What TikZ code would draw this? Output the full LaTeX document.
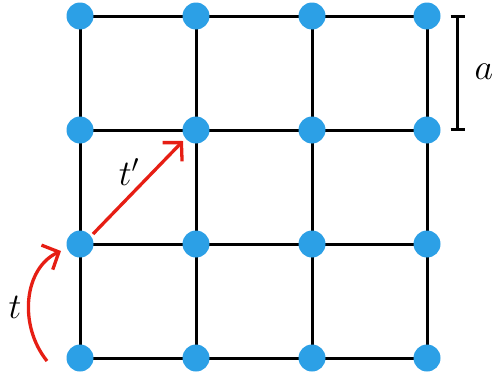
\documentclass[tikz,border=0pt]{standalone}
\usepackage{graphicx}
\usetikzlibrary{arrows.meta}
\definecolor{nodeblue}{RGB}{44,160,230}
\definecolor{arrred}{RGB}{230,30,20}
\newcommand{\biglbl}[1]{\scalebox{1.45}{\fontsize{24}{28}\selectfont$#1$}}
\begin{document}
\begin{tikzpicture}[x=1pt,y=-1pt,
  site/.style={circle,fill=nodeblue,inner sep=0pt,minimum size=27pt},
  bond/.style={line width=3pt,black},
  hop/.style={line width=3.3pt,arrred,-{Straight Barb[length=13pt,width=27pt,line width=3.3pt]}},
  lbl/.style={inner sep=0pt}]
\useasboundingbox (0,0) rectangle (493,380);
\foreach \i/\x in {0/80,1/196,2/312,3/427}
  \foreach \j/\y in {0/16,1/130,2/244,3/358}
    \coordinate (p\i\j) at (\x,\y);
% bonds
\foreach \j in {0,1,2,3}
  \draw[bond] (p0\j) -- (p3\j);
\foreach \i in {0,1,2,3}
  \draw[bond] (p\i0) -- (p\i3);
\foreach \i in {0,1,2,3}
  \foreach \j in {0,1,2,3}
    \node[site] (n\i\j) at (p\i\j) {};
% bracket
\coordinate (bt) at (457.5,16);
\coordinate (bb) at (457.5,129);
\draw[line width=3pt] (bt) -- (bb);
\draw[line width=3pt] ([xshift=-7pt]bt) -- ([xshift=7pt]bt);
\draw[line width=3pt] ([xshift=-7pt]bb) -- ([xshift=7pt]bb);
\node[lbl] (la) at (484,72) {\biglbl{a}};
% hops
\coordinate (ts) at (47,361);
\coordinate (te) at (61,251);
\draw[hop] (ts) .. controls (18,325) and (24,268) .. (te);
\node[lbl] (lt) at (15,307) {\biglbl{t}};
\coordinate (us) at (93,234);
\coordinate (ue) at (183,141);
\draw[hop] (us) -- (ue);
\node[lbl] (lu) at (129,172) {\biglbl{t'}};
\end{tikzpicture}
\end{document}
